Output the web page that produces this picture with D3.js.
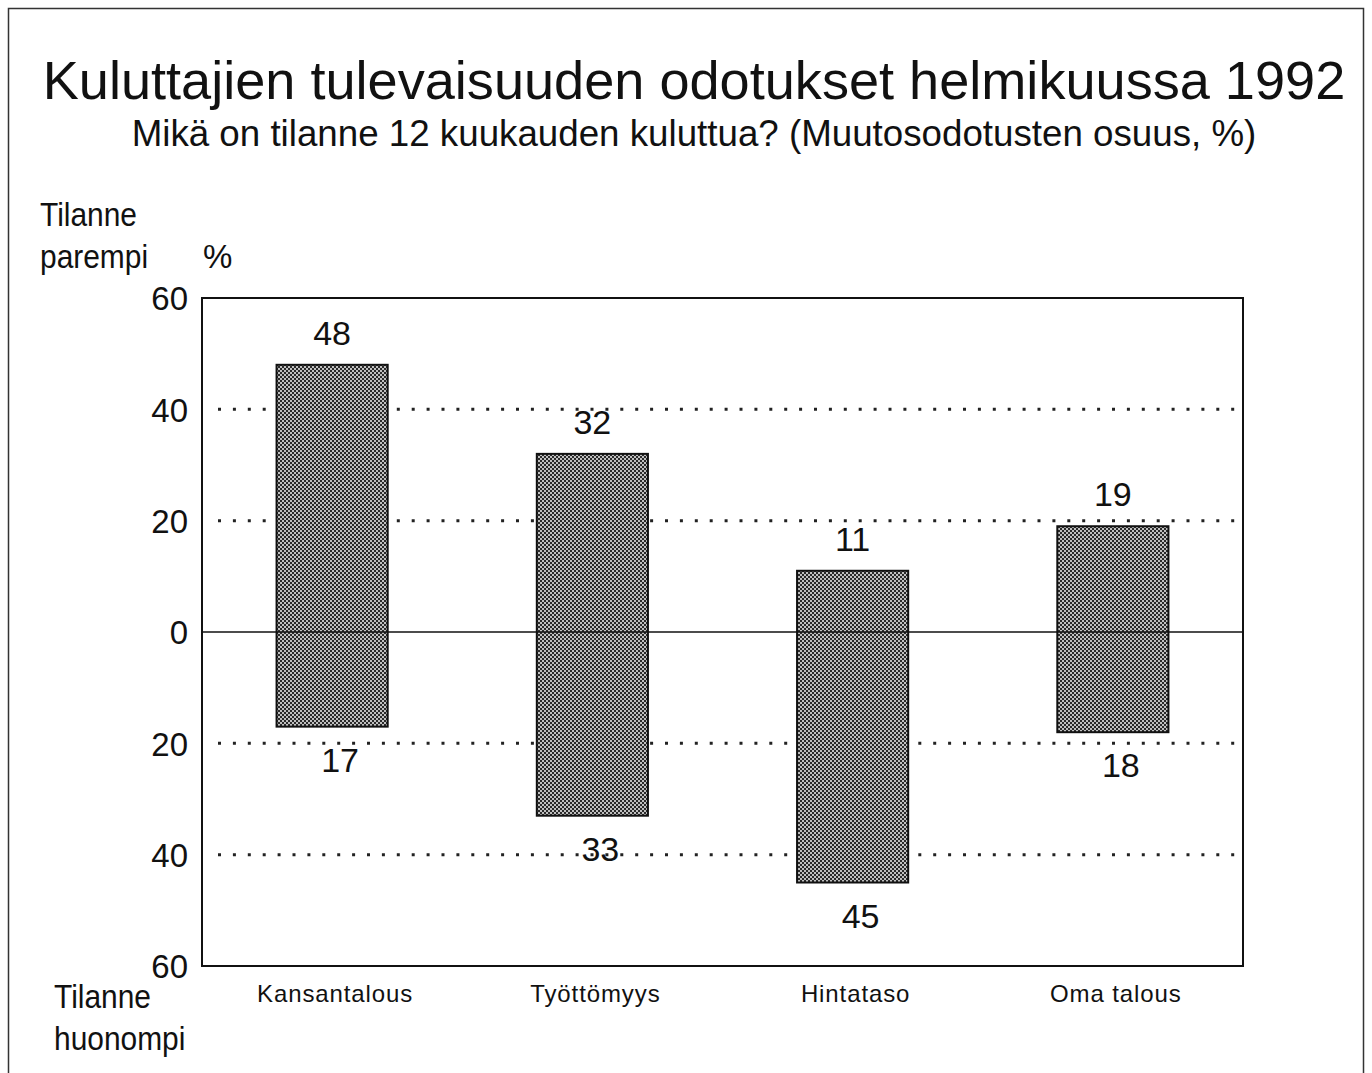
<!DOCTYPE html>
<html>
<head>
<meta charset="utf-8">
<script src="https://cdn.jsdelivr.net/npm/d3@7"></script>
<style>
  body { margin: 0; background: #fff; }
  svg { display: block; }
</style>
</head>
<body>
<svg id="chart"></svg>
<script>
// Data
var categories = ["Kansantalous", "Työttömyys", "Hintataso", "Oma talous"];
var better = [48, 32, 11, 19];     // tilanne parempi, %
var worse = [17, 33, 45, 18];      // tilanne huonompi, %
var tickValues = [-60, -40, -20, 0, 20, 40, 60];
var gridValues = [-40, -20, 20, 40];

var W = 1372, H = 1073;
var svg = d3.select("#chart").attr("width", W).attr("height", H);

var margin = { top: 298, right: 129, bottom: 107, left: 202 },
    width = W - margin.left - margin.right,
    height = H - margin.top - margin.bottom;

var font = "'Liberation Sans', Arial, Helvetica, sans-serif";

// checker fill like the printed raster
var defs = svg.append("defs");
var pat = defs.append("pattern")
    .attr("id", "checker")
    .attr("patternUnits", "userSpaceOnUse")
    .attr("width", 4).attr("height", 4);
pat.append("rect").attr("width", 4).attr("height", 4).attr("fill", "#c0c0c0");
pat.append("rect").attr("width", 2).attr("height", 2).attr("fill", "#2a2a2a");
pat.append("rect").attr("x", 2).attr("y", 2).attr("width", 2).attr("height", 2).attr("fill", "#2a2a2a");

// outer border
svg.append("rect")
    .attr("x", 8.5).attr("y", 8.5)
    .attr("width", 1355).attr("height", 1100)
    .attr("fill", "none")
    .attr("stroke", "#333")
    .attr("stroke-width", 1.5);

// title
var title = svg.append("text")
    .attr("x", 694).attr("y", 99)
    .attr("text-anchor", "middle")
    .attr("font-family", font)
    .attr("font-size", 48)
    .attr("fill", "#111")
    .text("Kuluttajien tulevaisuuden odotukset helmikuussa 1992");
var tl = title.node().getComputedTextLength();
title.attr("font-size", 48 * 1303 / tl);

var sub = svg.append("text")
    .attr("x", 694).attr("y", 146)
    .attr("text-anchor", "middle")
    .attr("font-family", font)
    .attr("font-size", 28)
    .attr("fill", "#111")
    .text("Mikä on tilanne 12 kuukauden kuluttua? (Muutosodotusten osuus, %)");
var sl = sub.node().getComputedTextLength();
sub.attr("font-size", 28 * 1125 / sl);

// side labels (narrow face: squeeze regular sans)
function narrowText(x0, y0, s) {
    svg.append("text")
        .attr("transform", "translate(" + x0 + "," + y0 + ") scale(0.88,1)")
        .attr("font-family", font)
        .attr("font-size", 34)
        .attr("fill", "#111")
        .text(s);
}
narrowText(40, 226, "Tilanne");
narrowText(40, 268, "parempi");
narrowText(54, 1008, "Tilanne");
narrowText(54, 1050, "huonompi");

svg.append("text").attr("x", 203).attr("y", 268)
    .attr("font-family", font).attr("font-size", 33).attr("fill", "#111")
    .text("%");

var g = svg.append("g").attr("transform", "translate(" + margin.left + "," + margin.top + ")");

// scales
var x = d3.scaleBand()
    .domain(categories)
    .range([0, width])
    .paddingInner(0.573)
    .paddingOuter(0.2865);

var y = d3.scaleLinear()
    .domain([-60, 60])
    .range([height, 0]);

// dotted grid
g.selectAll(".grid")
    .data(gridValues)
    .enter().append("line")
    .attr("class", "grid")
    .attr("x1", 16).attr("x2", width)
    .attr("y1", function(d) { return y(d); })
    .attr("y2", function(d) { return y(d); })
    .attr("stroke", "#222")
    .attr("stroke-width", 3)
    .attr("stroke-dasharray", "3,11.9");

// y axis labels (absolute values)
var yAxis = d3.axisLeft(y)
    .tickValues(tickValues)
    .tickSize(0)
    .tickPadding(14)
    .tickFormat(function(d) { return Math.abs(d); });

var ya = g.append("g").attr("class", "y axis").call(yAxis);
ya.select(".domain").remove();
ya.selectAll("text")
    .attr("font-family", font)
    .attr("font-size", 33)
    .attr("fill", "#111")
    .attr("dy", "0.36em");

// bars
g.selectAll(".bar")
    .data(categories)
    .enter().append("rect")
    .attr("class", "bar")
    .attr("x", function(d) { return x(d); })
    .attr("width", x.bandwidth())
    .attr("y", function(d, i) { return y(better[i]); })
    .attr("height", function(d, i) { return y(-worse[i]) - y(better[i]); })
    .attr("fill", "url(#checker)")
    .attr("stroke", "#111")
    .attr("stroke-width", 2);

// zero line
g.append("line")
    .attr("x1", 0).attr("x2", width)
    .attr("y1", y(0)).attr("y2", y(0))
    .attr("stroke", "#111")
    .attr("stroke-width", 1.5);

// frame
g.append("rect")
    .attr("x", 0).attr("y", 0)
    .attr("width", width).attr("height", height)
    .attr("fill", "none")
    .attr("stroke", "#111")
    .attr("stroke-width", 2);

// value labels
g.selectAll(".lab-top")
    .data(categories)
    .enter().append("text")
    .attr("class", "lab-top")
    .attr("x", function(d) { return x(d) + x.bandwidth() / 2; })
    .attr("y", function(d, i) { return y(better[i]) - 20; })
    .attr("text-anchor", "middle")
    .attr("font-family", font)
    .attr("font-size", 34)
    .attr("fill", "#111")
    .text(function(d, i) { return better[i]; });

g.selectAll(".lab-bot")
    .data(categories)
    .enter().append("text")
    .attr("class", "lab-bot")
    .attr("x", function(d) { return x(d) + x.bandwidth() / 2 + 8; })
    .attr("y", function(d, i) { return y(-worse[i]) + 45; })
    .attr("text-anchor", "middle")
    .attr("font-family", font)
    .attr("font-size", 34)
    .attr("fill", "#111")
    .text(function(d, i) { return worse[i]; });

// category labels
var xAxis = d3.axisBottom(x).tickSize(0).tickPadding(19);
var xa = g.append("g")
    .attr("class", "x axis")
    .attr("transform", "translate(3," + height + ")")
    .call(xAxis);
xa.select(".domain").remove();
xa.selectAll("text")
    .attr("font-family", font)
    .attr("font-size", 24)
    .attr("letter-spacing", 0.9)
    .attr("fill", "#111");
</script>
</body>
</html>
